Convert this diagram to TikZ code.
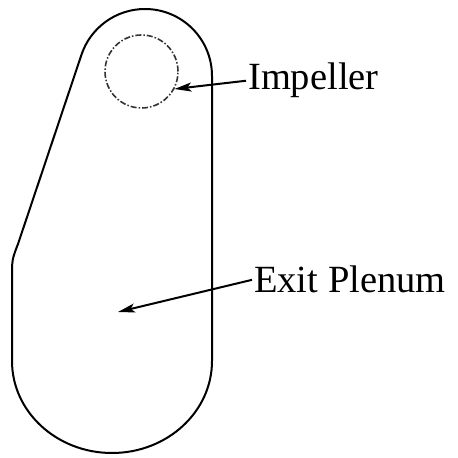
\documentclass[tikz,border=0pt]{standalone}
\usepackage{fontspec}
\setmainfont{Liberation Serif}
\usetikzlibrary{arrows.meta}
\begin{document}
\begin{tikzpicture}[x=1pt,y=1pt,
  outline/.style={line width=2pt, line join=round},
  impcircle/.style={line width=1.6pt, draw=black!80, dash pattern=on 6pt off 2pt on 1.5pt off 2pt},
  label/.style={font=\fontsize{38.5}{40}\selectfont, inner sep=2pt, anchor=base west},
  pointer/.style={line width=2pt, -{Stealth[length=17pt,width=9pt,inset=4pt]}}
]
\useasboundingbox (0,0) rectangle (458,458);
% casing outline
\draw[outline] (212,97) -- (212,382)
  arc[start angle=0, end angle=162, radius=67]
  -- (18,214) .. controls (12,199) and (12,196) .. (12,186)
  -- (12,97)
  arc[start angle=180, end angle=360, x radius=100, y radius=92] -- cycle;
% impeller
\node[circle, impcircle, draw, minimum size=73pt, inner sep=0pt] (imp) at (141.5,386.5) {};
\coordinate (plenum) at (118,146);
% labels
\node[label] (implab) at (246,368) {Impeller};
\node[label] (exitlab) at (252,165) {Exit Plenum};
% pointers
\draw[pointer] (implab.west) -- (imp.-28);
\draw[pointer] (exitlab.west) -- (plenum);
\end{tikzpicture}
\end{document}
